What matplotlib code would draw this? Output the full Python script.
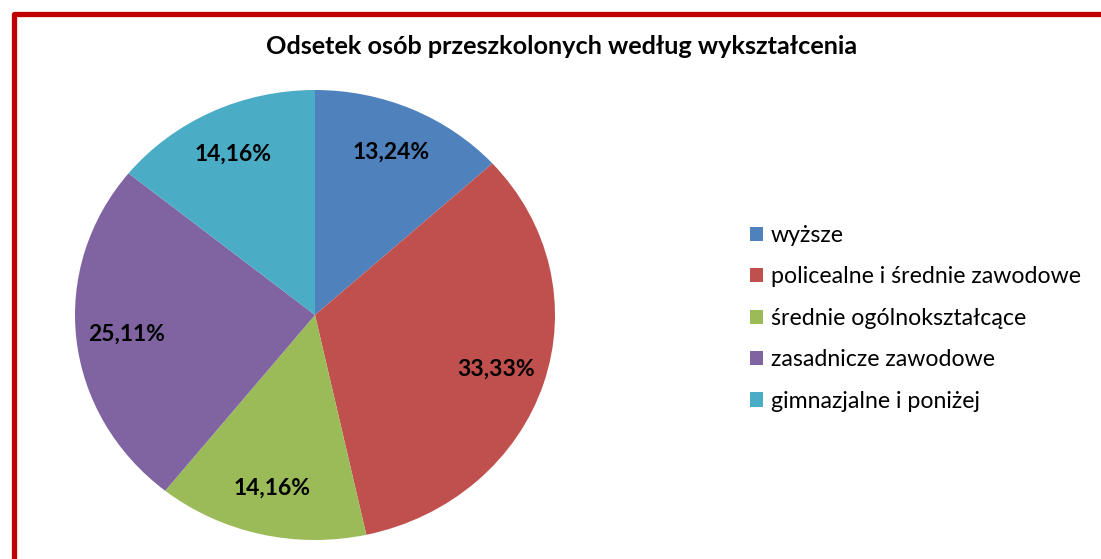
import matplotlib
matplotlib.use("Agg")
import matplotlib.pyplot as plt
from matplotlib.patches import Rectangle

categories = ["wyższe", "policealne i średnie zawodowe", "średnie ogólnokształcące",
              "zasadnicze zawodowe", "gimnazjalne i poniżej"]
values = [13.24, 33.33, 14.16, 25.11, 14.16]
colors = ["#4F81BD", "#C0504D", "#9BBB59", "#8064A2", "#4BACC6"]
title = "Odsetek osób przeszkolonych według wykształcenia"

plt.rcParams['font.family'] = ['Lato', 'DejaVu Sans']

W, H = 1101, 559
fig = plt.figure(figsize=(W / 100, H / 100), dpi=100)
fig.patch.set_facecolor("white")

# red frame
fig.patches.append(Rectangle((13.5 / W, -0.2), 2.0, (H - 13.5) / H + 0.2,
                             transform=fig.transFigure, fill=False,
                             edgecolor="#C00000", linewidth=3.8,
                             joinstyle="round", zorder=0))

ax = fig.add_axes([75 / W, 19 / H, 480 / W, 450 / H])
wedges, texts, autotexts = ax.pie(
    values, colors=colors, startangle=90, counterclock=False,
    autopct=lambda p: f"{p:.2f}%".replace(".", ","), pctdistance=0.79,
    wedgeprops=dict(linewidth=0),
    textprops=dict(fontsize=16.5, fontweight="bold", color="black"))
ax.set_aspect("auto")
ax.set_xlim(-1, 1)
ax.set_ylim(-1, 1)
ax.axis("off")

fig.text(562 / W, 1 - 47 / H, title, ha="center", va="center",
         fontsize=18.2, fontweight="bold")

fig.legend(wedges, categories, loc="upper left",
           bbox_to_anchor=(750 / W, 1 - 225 / H), frameon=False,
           fontsize=16.7, handlelength=0.56, handleheight=0.56,
           handletextpad=0.35, labelspacing=0.88, borderaxespad=0, borderpad=0)

fig.savefig("out.png", dpi=100, facecolor="white")
